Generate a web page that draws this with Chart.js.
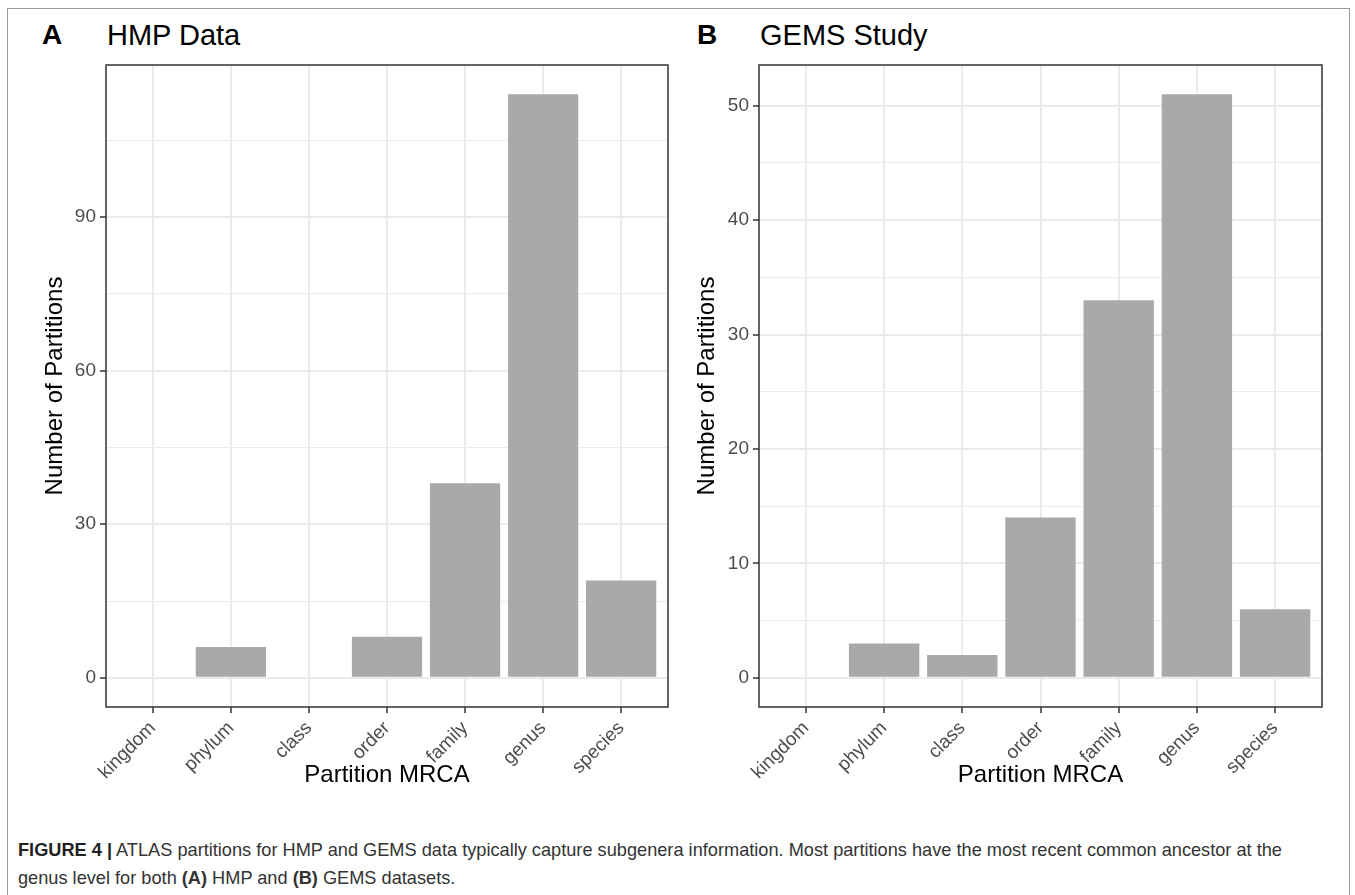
<!DOCTYPE html>
<html>
<head>
<meta charset="utf-8">
<script src="https://cdn.jsdelivr.net/npm/chart.js@4.4.1/dist/chart.umd.min.js"></script>
<style>
  body { margin: 0; background: #fff; font-family: "Liberation Sans", Arial, sans-serif; }
  #frame { position: absolute; left: 7px; top: 8px; width: 1343px; height: 900px; border: 1px solid #9a9a9a; box-sizing: border-box; }
  .panel { position: absolute; top: 0; height: 800px; }
  .tag { position: absolute; top: 19px; font-size: 28px; font-weight: bold; color: #000; }
  .ttl { position: absolute; top: 19px; font-size: 29px; color: #000; }
  #caption { position: absolute; left: 18px; top: 836px; width: 1330px; font-size: 18.2px; line-height: 28px; color: #333; white-space: nowrap; }
</style>
</head>
<body>
<div id="frame"></div>
<div class="tag" style="left:42px">A</div>
<div class="ttl" style="left:107px">HMP Data</div>
<div class="tag" style="left:697px">B</div>
<div class="ttl" style="left:760px">GEMS Study</div>
<div class="panel" style="left:0;width:680px"><canvas id="chartA" width="680" height="800"></canvas></div>
<div class="panel" style="left:680px;width:675px"><canvas id="chartB" width="675" height="800"></canvas></div>
<div id="caption"><b style="color:#222">FIGURE 4 |</b> ATLAS partitions for HMP and GEMS data typically capture subgenera information. Most partitions have the most recent common ancestor at the<br>genus level for both <b>(A)</b> HMP and <b>(B)</b> GEMS datasets.</div>
<script>
// taxonomic level of each partition's MRCA
const ranks = ['kingdom', 'phylum', 'class', 'order', 'family', 'genus', 'species'];
const hmpCounts = [0, 6, 0, 8, 38, 114, 19];
const gemsCounts = [0, 3, 2, 14, 33, 51, 6];

const hmpMajor = [0, 30, 60, 90];
const hmpMinor = [15, 45, 75, 105];
const gemsMajor = [0, 10, 20, 30, 40, 50];
const gemsMinor = [5, 15, 25, 35, 45];

const FONT = 'Liberation Sans';

// ggplot-like panel border around the plot area
const panelBorder = {
    id: 'panelBorder',
    afterDraw(chart) {
        const { ctx, chartArea: a } = chart;
        ctx.save();
        ctx.strokeStyle = '#333333';
        ctx.lineWidth = 1.5;
        ctx.strokeRect(a.left, a.top, a.right - a.left, a.bottom - a.top);
        ctx.restore();
    }
};

function makeChart(id, counts, major, minor, pad) {
    const top = Math.max(...counts);
    const yTicks = major.concat(minor).sort((a, b) => a - b);
    const isMinor = v => minor.includes(v);
    const ctx = document.getElementById(id).getContext('2d');
    return new Chart(ctx, {
        type: 'bar',
        data: {
            datasets: [{
                data: counts.map((v, i) => ({ x: i, y: v })),
                backgroundColor: '#a9a9a9',
                borderWidth: 0,
                barPercentage: 0.9,
                categoryPercentage: 1.0,
            }],
        },
        options: {
            responsive: false,
            animation: false,
            layout: { padding: pad.layout },
            plugins: { legend: { display: false }, tooltip: { enabled: false } },
            scales: {
                x: {
                    type: 'linear',
                    offset: false,
                    min: -0.6,
                    max: ranks.length - 0.4,
                    afterBuildTicks: s => { s.ticks = ranks.map((r, i) => ({ value: i })); },
                    afterFit: s => { s.height = pad.xHeight; },
                    border: { display: false },
                    grid: { offset: false, color: '#ebebeb', lineWidth: 2, tickColor: '#333333', tickLength: 6, tickWidth: 1.5 },
                    ticks: {
                        autoSkip: false,
                        minRotation: 45,
                        maxRotation: 45,
                        padding: 4,
                        color: '#4d4d4d',
                        font: { family: FONT, size: 19 },
                        callback: v => ranks[v],
                    },
                    title: {
                        display: true,
                        text: 'Partition MRCA',
                        color: '#000',
                        font: { family: FONT, size: 24 },
                        padding: { top: 0, bottom: pad.xTitle },
                    },
                },
                y: {
                    min: -top * 0.05,
                    max: top * 1.05,
                    afterBuildTicks: s => { s.ticks = yTicks.map(v => ({ value: v })); },
                    afterFit: s => { s.width = pad.yWidth; },
                    border: { display: false },
                    grid: {
                        color: '#ebebeb',
                        lineWidth: c => isMinor(c.tick.value) ? 1 : 2,
                        tickColor: c => isMinor(c.tick.value) ? 'rgba(0,0,0,0)' : '#333333',
                        tickLength: 6,
                        tickWidth: 1.5,
                    },
                    ticks: {
                        padding: 4,
                        color: '#4d4d4d',
                        font: { family: FONT, size: 19 },
                        callback: v => isMinor(v) ? '' : String(v),
                    },
                    title: {
                        display: true,
                        text: 'Number of Partitions',
                        color: '#000',
                        font: { family: FONT, size: 24 },
                        padding: { top: pad.yTitle, bottom: 0 },
                    },
                },
            },
        },
        plugins: [panelBorder],
    });
}

makeChart('chartA', hmpCounts, hmpMajor, hmpMinor, {
    layout: { left: 30, top: 65, right: 12, bottom: 5 },
    xHeight: 88, yWidth: 76, xTitle: 5.6, yTitle: 10.6,
});
makeChart('chartB', gemsCounts, gemsMajor, gemsMinor, {
    layout: { left: 4, top: 65, right: 33, bottom: 5 },
    xHeight: 88, yWidth: 75, xTitle: 5.6, yTitle: 8.6,
});
</script>
</body>
</html>
